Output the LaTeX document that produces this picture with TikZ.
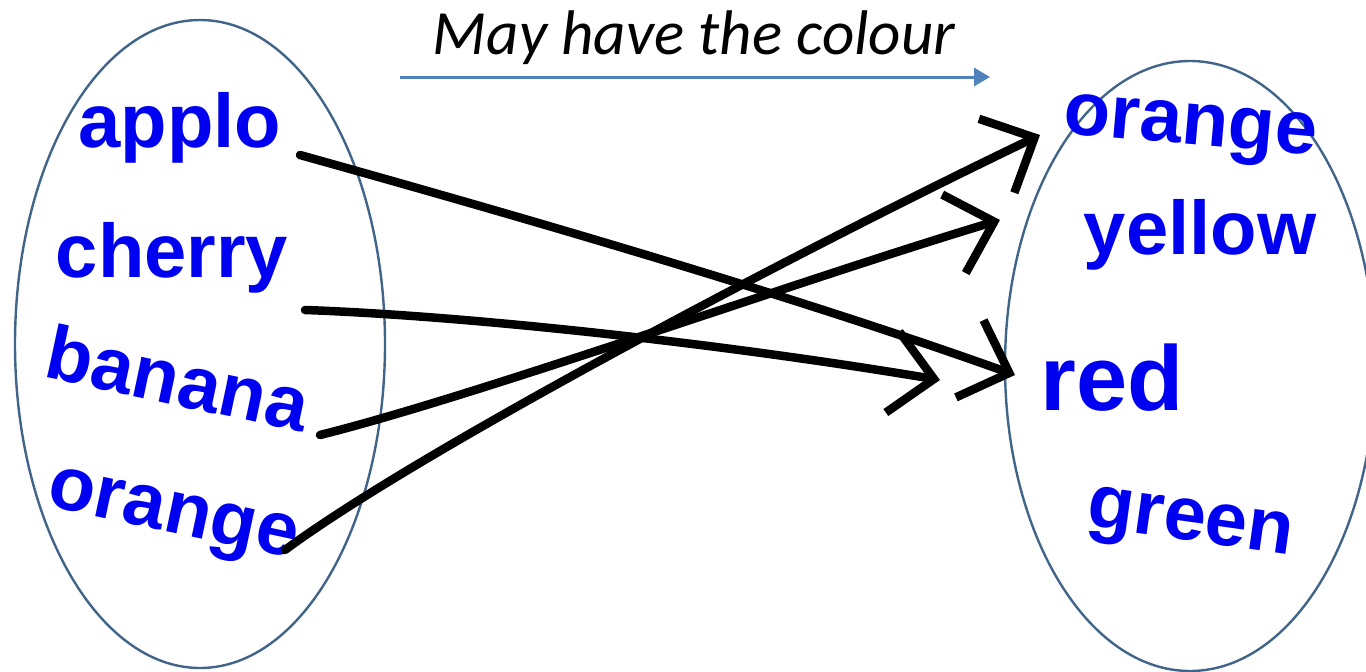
\documentclass[tikz,border=0pt]{standalone}
\usepackage{fontspec}
\setmainfont{Liberation Sans}
\newfontfamily\labelfont{Carlito}
\usetikzlibrary{arrows.meta,shapes.geometric}
\definecolor{ellcol}{HTML}{41648A}
\definecolor{arrcol}{HTML}{4F81BD}
\definecolor{inkblue}{HTML}{0000F0}
\begin{document}
\begin{tikzpicture}[x=1pt,y=-1pt,
  word/.style={text=inkblue, font=\fontsize{76}{76}\selectfont\bfseries, inner sep=0pt},
  hand/.style={line width=8.5pt, line cap=round, line join=round,
    -{Straight Barb[length=42pt,width=82pt]}},
  setell/.style={draw=ellcol, line width=2.4pt, ellipse, inner sep=0pt}]
\useasboundingbox (0,0) rectangle (1366,672);
% sets
\node[setell, minimum width=370pt, minimum height=648pt] (setA) at (200,344) {};
\node[setell, minimum width=370pt, minimum height=610pt] (setB) at (1190,366) {};
% title and arrow
\node[font=\labelfont\itshape\fontsize{63}{63}\selectfont, inner sep=0pt] (title) at (694,38) {May have the colour};
\coordinate (ta) at (400,77);
\coordinate (tb) at (990,77);
\draw[arrcol, line width=3pt, -{Triangle[length=16pt,width=18pt]}] (ta) -- (tb);
% fruits
\node[word] (applo) at (180,128) {applo};
\node[word] (cherry) at (172,258) {cherry};
\node[word, rotate=-12] (banana) at (178,378) {banana};
\node[word, rotate=-12] (orangeL) at (172,520) {orange};
% colours
\node[word, rotate=-5] (orangeR) at (1190,132) {orange};
\node[word] (yellow) at (1200,235) {yellow};
\node[word, font=\fontsize{92}{92}\selectfont\bfseries] (red) at (1112,378) {red};
\node[word, rotate=-8] (green) at (1190,528) {green};
% connectors
\draw[hand] ([shift={(120,27)}]applo.center) .. controls (540,222) and (800,298) .. ([shift={(-97,-3)}]red.center);
\draw[hand] ([shift={(133,52)}]cherry.center) .. controls (450,315) and (700,340) .. ([shift={(-172,2)}]red.center);
\draw[hand] ([shift={(142,57)}]banana.center) .. controls (480,395) and (800,280) .. ([shift={(-200,-15)}]yellow.center);
\draw[hand] ([shift={(113,30)}]orangeL.center) .. controls (420,450) and (800,250) .. ([shift={(-150,3)}]orangeR.center);
\end{tikzpicture}
\end{document}
